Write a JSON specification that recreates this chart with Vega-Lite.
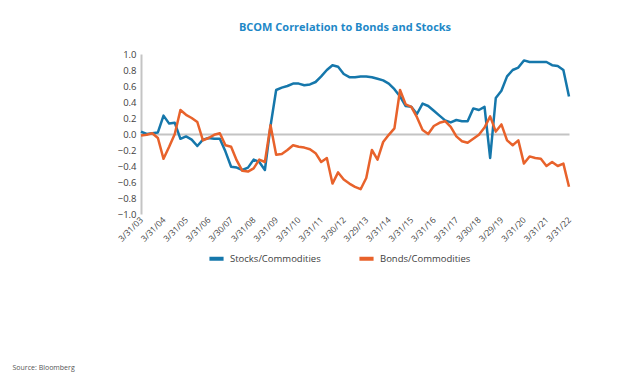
{
  "$schema": "https://vega.github.io/schema/vega-lite/v6.json",
  "width": 428,
  "height": 160,
  "autosize": {"type": "none"},
  "padding": {"left": 141, "top": 54, "right": 55, "bottom": 166},
  "background": "white",
  "title": {
    "text": "BCOM Correlation to Bonds and Stocks",
    "font": "Open Sans",
    "fontSize": 11,
    "fontWeight": "bold",
    "color": "#1e88c7",
    "anchor": "middle",
    "dx": -10,
    "offset": 16
  },
  "config": {
    "view": {"stroke": null},
    "font": "Open Sans"
  },
  "data": {
    "values": [
      {"d": "3/31/03", "Stocks/Commodities": 0.03, "Bonds/Commodities": -0.02},
      {"d": "6/30/03", "Stocks/Commodities": 0.0, "Bonds/Commodities": -0.01},
      {"d": "9/30/03", "Stocks/Commodities": 0.01, "Bonds/Commodities": 0.01},
      {"d": "12/31/03", "Stocks/Commodities": 0.02, "Bonds/Commodities": -0.05},
      {"d": "3/31/04", "Stocks/Commodities": 0.23, "Bonds/Commodities": -0.31},
      {"d": "6/30/04", "Stocks/Commodities": 0.13, "Bonds/Commodities": -0.16},
      {"d": "9/30/04", "Stocks/Commodities": 0.14, "Bonds/Commodities": 0.0},
      {"d": "12/31/04", "Stocks/Commodities": -0.06, "Bonds/Commodities": 0.3},
      {"d": "3/31/05", "Stocks/Commodities": -0.03, "Bonds/Commodities": 0.24},
      {"d": "6/30/05", "Stocks/Commodities": -0.07, "Bonds/Commodities": 0.2},
      {"d": "9/30/05", "Stocks/Commodities": -0.15, "Bonds/Commodities": 0.15},
      {"d": "12/30/05", "Stocks/Commodities": -0.07, "Bonds/Commodities": -0.08},
      {"d": "3/31/06", "Stocks/Commodities": -0.05, "Bonds/Commodities": -0.05},
      {"d": "6/30/06", "Stocks/Commodities": -0.06, "Bonds/Commodities": -0.01},
      {"d": "9/29/06", "Stocks/Commodities": -0.06, "Bonds/Commodities": 0.01},
      {"d": "12/29/06", "Stocks/Commodities": -0.22, "Bonds/Commodities": -0.14},
      {"d": "3/30/07", "Stocks/Commodities": -0.41, "Bonds/Commodities": -0.16},
      {"d": "6/29/07", "Stocks/Commodities": -0.42, "Bonds/Commodities": -0.33},
      {"d": "9/28/07", "Stocks/Commodities": -0.45, "Bonds/Commodities": -0.46},
      {"d": "12/31/07", "Stocks/Commodities": -0.42, "Bonds/Commodities": -0.47},
      {"d": "3/31/08", "Stocks/Commodities": -0.32, "Bonds/Commodities": -0.43},
      {"d": "6/30/08", "Stocks/Commodities": -0.35, "Bonds/Commodities": -0.32},
      {"d": "9/30/08", "Stocks/Commodities": -0.45, "Bonds/Commodities": -0.35},
      {"d": "12/31/08", "Stocks/Commodities": 0.1, "Bonds/Commodities": 0.11},
      {"d": "3/31/09", "Stocks/Commodities": 0.55, "Bonds/Commodities": -0.26},
      {"d": "6/30/09", "Stocks/Commodities": 0.58, "Bonds/Commodities": -0.25},
      {"d": "9/30/09", "Stocks/Commodities": 0.6, "Bonds/Commodities": -0.2},
      {"d": "12/31/09", "Stocks/Commodities": 0.63, "Bonds/Commodities": -0.14},
      {"d": "3/31/10", "Stocks/Commodities": 0.63, "Bonds/Commodities": -0.16},
      {"d": "6/30/10", "Stocks/Commodities": 0.61, "Bonds/Commodities": -0.17},
      {"d": "9/30/10", "Stocks/Commodities": 0.62, "Bonds/Commodities": -0.19},
      {"d": "12/31/10", "Stocks/Commodities": 0.65, "Bonds/Commodities": -0.24},
      {"d": "3/31/11", "Stocks/Commodities": 0.72, "Bonds/Commodities": -0.35},
      {"d": "6/30/11", "Stocks/Commodities": 0.8, "Bonds/Commodities": -0.3},
      {"d": "9/30/11", "Stocks/Commodities": 0.86, "Bonds/Commodities": -0.62},
      {"d": "12/30/11", "Stocks/Commodities": 0.84, "Bonds/Commodities": -0.48},
      {"d": "3/30/12", "Stocks/Commodities": 0.75, "Bonds/Commodities": -0.57},
      {"d": "6/29/12", "Stocks/Commodities": 0.71, "Bonds/Commodities": -0.62},
      {"d": "9/28/12", "Stocks/Commodities": 0.71, "Bonds/Commodities": -0.66},
      {"d": "12/31/12", "Stocks/Commodities": 0.72, "Bonds/Commodities": -0.69},
      {"d": "3/29/13", "Stocks/Commodities": 0.72, "Bonds/Commodities": -0.55},
      {"d": "6/28/13", "Stocks/Commodities": 0.71, "Bonds/Commodities": -0.2},
      {"d": "9/30/13", "Stocks/Commodities": 0.69, "Bonds/Commodities": -0.32},
      {"d": "12/31/13", "Stocks/Commodities": 0.67, "Bonds/Commodities": -0.1},
      {"d": "3/31/14", "Stocks/Commodities": 0.63, "Bonds/Commodities": -0.01},
      {"d": "6/30/14", "Stocks/Commodities": 0.56, "Bonds/Commodities": 0.07},
      {"d": "9/30/14", "Stocks/Commodities": 0.47, "Bonds/Commodities": 0.55},
      {"d": "12/31/14", "Stocks/Commodities": 0.35, "Bonds/Commodities": 0.37},
      {"d": "3/31/15", "Stocks/Commodities": 0.34, "Bonds/Commodities": 0.34},
      {"d": "6/30/15", "Stocks/Commodities": 0.25, "Bonds/Commodities": 0.21},
      {"d": "9/30/15", "Stocks/Commodities": 0.38, "Bonds/Commodities": 0.05},
      {"d": "12/31/15", "Stocks/Commodities": 0.35, "Bonds/Commodities": 0.0},
      {"d": "3/31/16", "Stocks/Commodities": 0.29, "Bonds/Commodities": 0.1},
      {"d": "6/30/16", "Stocks/Commodities": 0.23, "Bonds/Commodities": 0.14},
      {"d": "9/30/16", "Stocks/Commodities": 0.17, "Bonds/Commodities": 0.16},
      {"d": "12/30/16", "Stocks/Commodities": 0.145, "Bonds/Commodities": 0.09},
      {"d": "3/31/17", "Stocks/Commodities": 0.175, "Bonds/Commodities": -0.03},
      {"d": "6/30/17", "Stocks/Commodities": 0.16, "Bonds/Commodities": -0.09},
      {"d": "9/29/17", "Stocks/Commodities": 0.16, "Bonds/Commodities": -0.11},
      {"d": "12/29/17", "Stocks/Commodities": 0.32, "Bonds/Commodities": -0.06},
      {"d": "3/30/18", "Stocks/Commodities": 0.3, "Bonds/Commodities": -0.01},
      {"d": "6/29/18", "Stocks/Commodities": 0.34, "Bonds/Commodities": 0.08},
      {"d": "9/28/18", "Stocks/Commodities": -0.3, "Bonds/Commodities": 0.22},
      {"d": "12/31/18", "Stocks/Commodities": 0.45, "Bonds/Commodities": 0.03},
      {"d": "3/29/19", "Stocks/Commodities": 0.54, "Bonds/Commodities": 0.12},
      {"d": "6/28/19", "Stocks/Commodities": 0.72, "Bonds/Commodities": -0.08},
      {"d": "9/30/19", "Stocks/Commodities": 0.8, "Bonds/Commodities": -0.14},
      {"d": "12/31/19", "Stocks/Commodities": 0.83, "Bonds/Commodities": -0.08},
      {"d": "3/31/20", "Stocks/Commodities": 0.92, "Bonds/Commodities": -0.37},
      {"d": "6/30/20", "Stocks/Commodities": 0.9, "Bonds/Commodities": -0.28},
      {"d": "9/30/20", "Stocks/Commodities": 0.9, "Bonds/Commodities": -0.3},
      {"d": "12/31/20", "Stocks/Commodities": 0.9, "Bonds/Commodities": -0.31},
      {"d": "3/31/21", "Stocks/Commodities": 0.9, "Bonds/Commodities": -0.4},
      {"d": "6/30/21", "Stocks/Commodities": 0.86, "Bonds/Commodities": -0.35},
      {"d": "9/30/21", "Stocks/Commodities": 0.85, "Bonds/Commodities": -0.4},
      {"d": "12/31/21", "Stocks/Commodities": 0.8, "Bonds/Commodities": -0.37},
      {"d": "3/31/22", "Stocks/Commodities": 0.47, "Bonds/Commodities": -0.66}
    ]
  },
  "transform": [
    {"fold": ["Stocks/Commodities", "Bonds/Commodities"], "as": ["series", "value"]}
  ],
  "mark": {"type": "line", "strokeWidth": 2.5, "strokeJoin": "round"},
  "encoding": {
    "x": {
      "field": "d",
      "type": "ordinal",
      "sort": null,
      "scale": {"type": "point", "padding": 0},
      "axis": {
        "title": "Source: Bloomberg",
        "titleFont": "Open Sans",
        "titleFontSize": 7,
        "titleFontWeight": "normal",
        "titleColor": "#555555",
        "titleAnchor": "start",
        "titleAlign": "left",
        "titleBaseline": "middle",
        "titleX": -129,
        "titleY": 153,
        "values": ["3/31/03", "3/31/04", "3/31/05", "3/31/06", "3/30/07", "3/31/08", "3/31/09", "3/31/10", "3/31/11", "3/30/12", "3/29/13", "3/31/14", "3/31/15", "3/31/16", "3/31/17", "3/30/18", "3/29/19", "3/31/20", "3/31/21", "3/31/22"],
        "labelAngle": -45,
        "labelAlign": "right",
        "labelBaseline": "middle",
        "labelFontSize": 8.5,
        "labelColor": "#404040",
        "labelPadding": 4,
        "labelOverlap": false,
        "ticks": false,
        "domain": false,
        "grid": false
      }
    },
    "y": {
      "field": "value",
      "type": "quantitative",
      "scale": {"domain": [-1, 1], "nice": false},
      "axis": {
        "title": null,
        "values": [-1, -0.8, -0.6, -0.4, -0.2, 0, 0.2, 0.4, 0.6, 0.8, 1],
        "format": ".1f",
        "labelFontSize": 9.5,
        "labelColor": "#404040",
        "labelPadding": 5,
        "labelOverlap": false,
        "labelFlush": false,
        "labelBound": false,
        "ticks": false,
        "grid": true,
        "gridColor": "#c4c4c4",
        "gridWidth": 2,
        "gridOpacity": {"condition": {"test": "abs(datum.value) < 0.001", "value": 1}, "value": 0},
        "domain": true,
        "domainColor": "#c4c4c4",
        "domainWidth": 2
      }
    },
    "color": {
      "field": "series",
      "type": "nominal",
      "sort": ["Stocks/Commodities", "Bonds/Commodities"],
      "scale": {"domain": ["Stocks/Commodities", "Bonds/Commodities"], "range": ["#1577ab", "#e8622b"]},
      "legend": {
        "title": null,
        "orient": "none",
        "direction": "horizontal",
        "legendX": 66,
        "legendY": 195,
        "symbolType": "stroke",
        "symbolStrokeWidth": 4,
        "symbolSize": 200,
        "labelFontSize": 9.5,
        "labelColor": "#404040",
        "columnPadding": 30,
        "symbolOffset": 0
      }
    }
  }
}
